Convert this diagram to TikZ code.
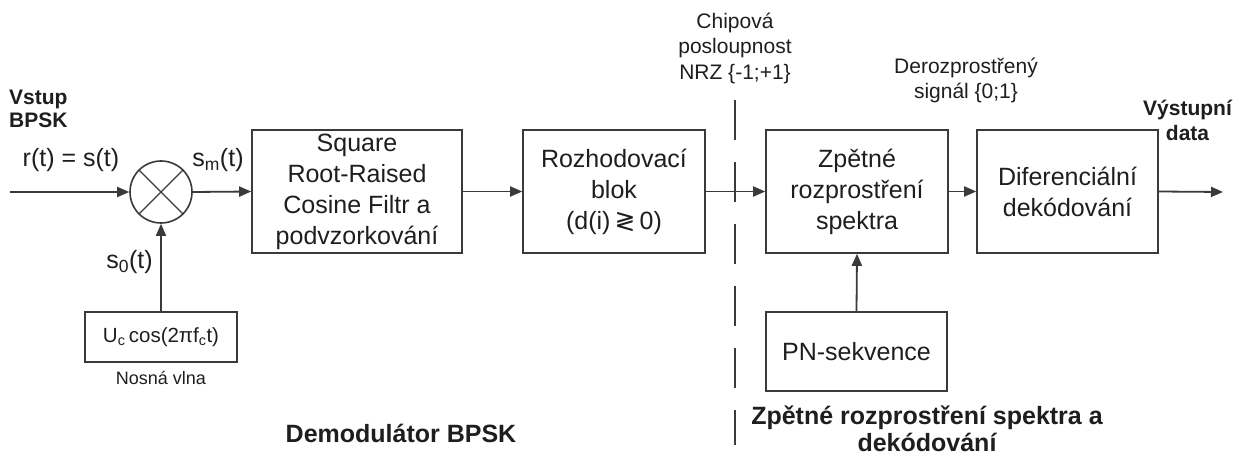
\documentclass[tikz,border=0pt]{standalone}
\usepackage{fontspec}
\setmainfont{Liberation Sans}
\newfontfamily\symfont{DejaVu Sans}
\usetikzlibrary{arrows.meta}
\definecolor{linec}{HTML}{3A3A3A}
\definecolor{txt}{HTML}{1E1E1E}
\begin{document}
\begin{tikzpicture}[x=1pt,y=-1pt,
  blok/.style={draw=linec, line width=1.6pt, minimum height=123pt, align=center,
    inner sep=0pt, text=txt, font=\fontsize{25}{31}\selectfont},
  sig/.style={draw=linec, line width=1.8pt, -{Triangle[length=12pt,width=10pt]}},
  lbl/.style={text=txt, inner sep=0pt, font=\fontsize{25}{30}\selectfont},
  small/.style={text=txt, inner sep=0pt, align=center},
  heading/.style={text=txt, inner sep=0pt, align=center, font=\bfseries\fontsize{25}{27}\selectfont}]
\useasboundingbox (0,0) rectangle (1251,457);

% blocks of the receiver chain
\node[circle, draw=linec, line width=1.6pt, minimum size=62pt, inner sep=0pt] (mix) at (161,192) {};
\draw[linec, line width=1.4pt] (mix.north west) -- (mix.south east)
                                (mix.north east) -- (mix.south west);
\node[blok, minimum width=210pt] (srrc) at (357,191.5) {Square\\Root-Raised\\Cosine Filtr a\\podvzorkování};
\node[blok, minimum width=182pt] (rozh) at (614,191.5) {Rozhodovací\\blok\\(d(i)\,{\symfont ≷}\,0)};
\node[blok, minimum width=182pt] (zpet) at (857,191.5) {Zpětné\\rozprostření\\spektra};
\node[blok, minimum width=181pt] (dif) at (1067.5,191.5) {Diferenciální\\dekódování};
\node[blok, minimum width=181pt, minimum height=79pt] (pn) at (856.5,351.5) {PN-sekvence};
\node[blok, minimum width=152pt, minimum height=50pt, font=\fontsize{20.5}{24}\selectfont] (nos) at (161,337)
  {U\textsubscript{c}\,cos(2πf\textsubscript{c}t)};

\coordinate (in) at (10,192);
\coordinate (out) at (1223,192);

% signal flow
\draw[sig] (in) -- (mix.west);
\draw[sig] (mix.east) -- (srrc.west);
\draw[sig] (srrc.east) -- (rozh.west);
\draw[sig] (rozh.east) -- (zpet.west);
\draw[sig] (zpet.east) -- (dif.west);
\draw[sig] (dif.east) -- (out);
\draw[sig] (nos.north) -- (mix.south);
\draw[sig] (pn.north) -- (zpet.south);

% boundary between demodulator and despreading
\coordinate (sepA) at (735,100);
\coordinate (sepB) at (735,445);
\draw[linec, line width=2pt, dash pattern=on 40pt off 22pt] (sepA) -- (sepB);

% signal labels
\node[lbl] (lr) at (71,160) {r(t) = s(t)};
\node[lbl] (lsm) at (218,160) {s\textsubscript{m}(t)};
\node[lbl] (ls0) at (129.5,262) {s\textsubscript{0}(t)};
\node[small, font=\fontsize{18}{22}\selectfont] (lnos) at (161,378) {Nosná vlna};
\node[small, font=\bfseries\fontsize{21}{23}\selectfont, align=left, anchor=west] (lin) at (9,108.5) {Vstup\\BPSK};
\node[small, font=\bfseries\fontsize{21}{25}\selectfont] (lout) at (1187.5,120.5) {Výstupní\\data};
\node[small, font=\fontsize{21}{25.5}\selectfont] (lchip) at (735,48) {Chipová\\posloupnost\\NRZ \{-1;+1\}};
\node[small, font=\fontsize{21}{25}\selectfont] (lder) at (966,80) {Derozprostřený\\signál \{0;1\}};

% section titles
\node[heading] (tdem) at (401,433) {Demodulátor BPSK};
\node[heading] (tdes) at (927,429) {Zpětné rozprostření spektra a\\dekódování};
\end{tikzpicture}
\end{document}
